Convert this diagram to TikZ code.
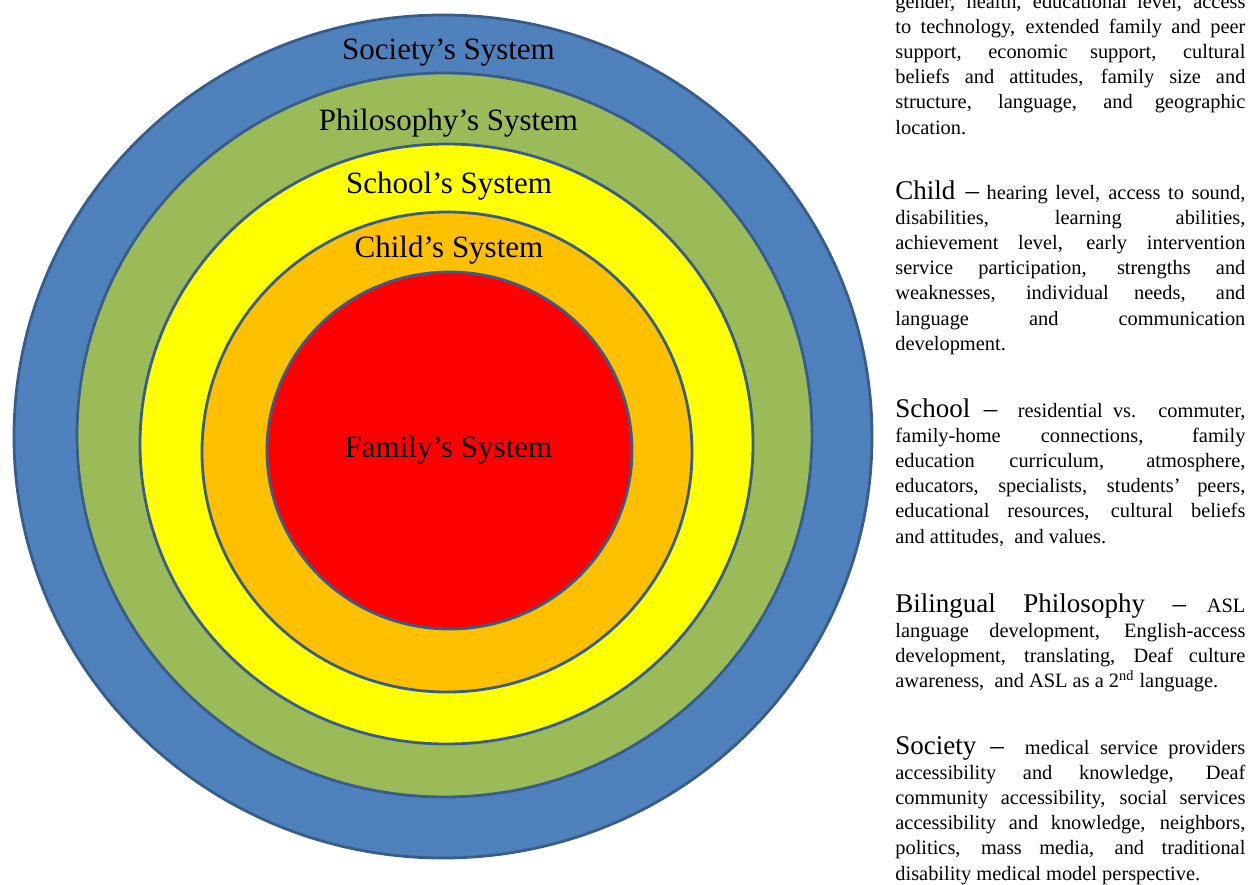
\documentclass[tikz,border=0pt]{standalone}
\usepackage{fontspec}
\setmainfont{Liberation Serif}
\usepackage{tikz}

\definecolor{societyblue}{HTML}{4F81BD}
\definecolor{philgreen}{HTML}{9BBB59}
\definecolor{schoolyellow}{HTML}{FFFF00}
\definecolor{childorange}{HTML}{FFC000}
\definecolor{familyred}{HTML}{FF0000}
\definecolor{ringline}{HTML}{385D8A}

\newcommand{\headsize}{\fontsize{13.5}{12.6}\selectfont}
\tolerance=10000\relax
\hyphenpenalty=10000\relax

\begin{document}
\begin{tikzpicture}[x=0.5pt,y=-0.5pt,
	ring/.style={draw=ringline,line width=1.4pt},
	ringlabel/.style={font=\fontsize{15.5}{18}\selectfont,inner sep=0pt,anchor=base},
	para/.style={text width=175pt,align=justify,inner sep=0pt,anchor=base west,
		font=\fontsize{10.2}{12.6}\selectfont}]
	\useasboundingbox (0,0) rectangle (1252,884);
	\clip (0,0) rectangle (1252,884);

	% the five systems
	\draw[ring,fill=societyblue] (443,436.5) ellipse [x radius=429,y radius=421.5];
	\draw[ring,fill=philgreen] (444.5,435) ellipse [x radius=367.5,y radius=362];
	\draw[ring,fill=schoolyellow] (446.5,444) ellipse [x radius=306.5,y radius=300];
	\draw[ring,fill=childorange] (447,452) ellipse [x radius=245,y radius=240];
	\draw[ring,fill=familyred] (449.5,450.5) ellipse [x radius=182.5,y radius=178.5];

	\node[ringlabel] (society) at (448.5,59) {Society’s System};
	\node[ringlabel] (philosophy) at (448.5,130) {Philosophy’s System};
	\node[ringlabel] (school) at (449,193) {School’s System};
	\node[ringlabel] (child) at (449,257) {Child’s System};
	\node[ringlabel] (family) at (448.5,457) {Family’s System};

	% descriptions
	\node[para] (familytext) at (895,8) {gender, health, educational level, access\linebreak
		to technology, extended family and peer\linebreak
		support, economic support, cultural\linebreak
		beliefs and attitudes, family size and\linebreak
		structure, language, and geographic\linebreak
		location.};
	\node[para] (childtext) at (895,199) {{\headsize Child --} hearing level, access to sound,\linebreak
		disabilities, learning abilities,\linebreak
		achievement level, early intervention\linebreak
		service participation, strengths and\linebreak
		weaknesses, individual needs, and\linebreak
		language and communication\linebreak
		development.};
	\node[para] (schooltext) at (895,417) {{\headsize School --}\ \ residential vs. commuter,\linebreak
		family-home connections, family\linebreak
		education curriculum, atmosphere,\linebreak
		educators, specialists, students’ peers,\linebreak
		educational resources, cultural beliefs\linebreak
		and attitudes,\ \ and values.};
	\node[para] (philtext) at (895,612) {{\headsize Bilingual Philosophy --} ASL\linebreak
		language development, English-access\linebreak
		development, translating, Deaf culture\linebreak
		awareness,\ \ and ASL as a 2\textsuperscript{nd} language.};
	\node[para] (societytext) at (895,754) {{\headsize Society --}\ \ medical service providers\linebreak
		accessibility and knowledge, Deaf\linebreak
		community accessibility, social services\linebreak
		accessibility and knowledge, neighbors,\linebreak
		politics, mass media, and traditional\linebreak
		disability medical model perspective.};
\end{tikzpicture}
\end{document}
